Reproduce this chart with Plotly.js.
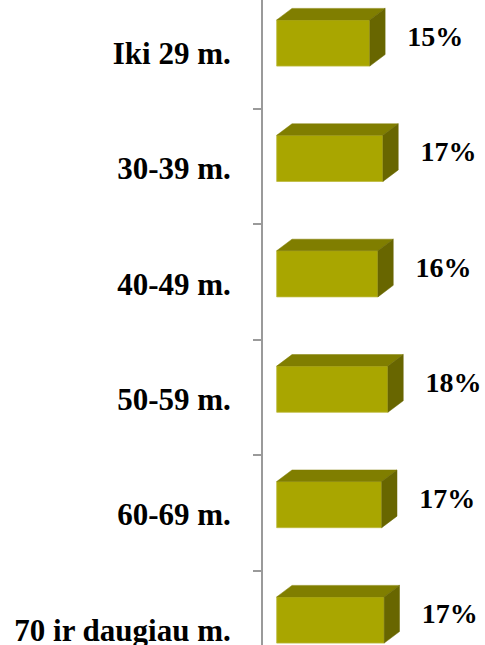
<!DOCTYPE html>
<html>
<head>
<meta charset="utf-8">
<script src="https://cdn.plot.ly/plotly-3.0.1.min.js"></script>
<style>html,body{margin:0;padding:0;background:#fff;}#chart{width:485px;height:645px;}</style>
</head>
<body>
<div id="chart"></div>
<script>
var categories = ["Iki 29 m.", "30-39 m.", "40-49 m.", "50-59 m.", "60-69 m.", "70 ir daugiau m."];
var values = [14.9, 17.0, 16.2, 17.8, 16.8, 17.2];

var FRONT = "rgb(169,166,0)", TOP = "rgb(128,126,0)", SIDE = "rgb(104,102,0)";
var barW = 0.4, depthX = 2.45, depthY = 0.1;
var idx = categories.map(function(_, i){ return i; });

var topX = [], topY = [], sideX = [], sideY = [];
values.forEach(function(v, i){
  var y0 = i - barW/2, y1 = i + barW/2;
  topX.push(0, v, v + depthX, depthX, 0, null);
  topY.push(y0, y0, y0 - depthY, y0 - depthY, y0, null);
  sideX.push(v, v + depthX, v + depthX, v, v, null);
  sideY.push(y0, y0 - depthY, y1 - depthY, y1, y0, null);
});

var traces = [
  {type: "bar", orientation: "h", x: values, y: idx, width: barW,
   marker: {color: FRONT, line: {color: "rgb(190,186,60)", width: 0.8}},
   hoverinfo: "skip"},
  {type: "scatter", mode: "lines", x: topX, y: topY, fill: "toself", fillcolor: TOP,
   line: {color: TOP, width: 0.5}, hoverinfo: "skip"},
  {type: "scatter", mode: "lines", x: sideX, y: sideY, fill: "toself", fillcolor: SIDE,
   line: {color: SIDE, width: 0.5}, hoverinfo: "skip"},
  {type: "scatter", mode: "text",
   x: values.map(function(v){ return v + 6.0; }),
   y: idx.map(function(i){ return i - 0.035; }),
   text: values.map(function(v){ return Math.round(v) + "%"; }),
   textposition: "middle right",
   textfont: {family: "Liberation Serif", size: 28, color: "#000", weight: "bold"},
   cliponaxis: false, hoverinfo: "skip"},
  {type: "scatter", mode: "markers", x: [0], y: [0], yaxis: "y2",
   marker: {opacity: 0}, hoverinfo: "skip"}
];

var yr = [5.2166, -0.3726];
var layout = {
  width: 485, height: 645,
  margin: {l: 263, r: 0, t: 0, b: 0},
  paper_bgcolor: "#fff", plot_bgcolor: "#fff",
  showlegend: false,
  xaxis: {range: [-2.19, 33.33], visible: false, fixedrange: true},
  yaxis: {range: yr, tickmode: "array",
          tickvals: idx.map(function(i){ return i + 0.087; }),
          ticktext: categories, ticks: "", showgrid: false, zeroline: false,
          showline: true, linecolor: "#9a9a9a", linewidth: 2,
          ticklabelstandoff: 24, ticklabeloverflow: "allow",
          tickfont: {family: "Liberation Serif", size: 31, color: "#000", weight: "bold"}},
  yaxis2: {range: yr, overlaying: "y", side: "left", tickmode: "array",
           tickvals: idx.slice(0, 5).map(function(i){ return i + 0.572; }),
           ticks: "outside", ticklen: 9, tickwidth: 2, tickcolor: "#9a9a9a",
           showticklabels: false, showgrid: false, zeroline: false, showline: false}
};

Plotly.newPlot("chart", traces, layout, {displayModeBar: false, staticPlot: true});
</script>
</body>
</html>
